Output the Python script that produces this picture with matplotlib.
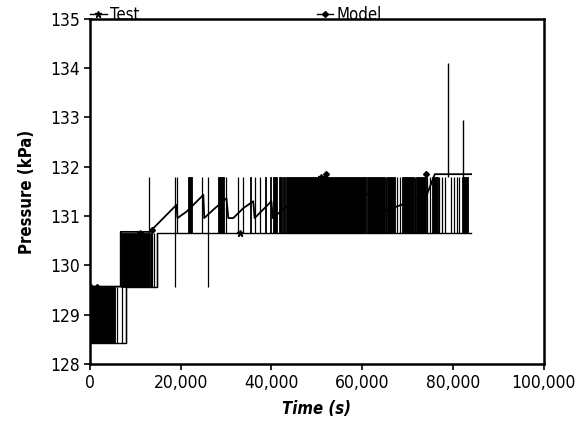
import matplotlib
matplotlib.use("Agg")
import matplotlib.pyplot as plt
from matplotlib.lines import Line2D
from matplotlib import font_manager

names = sorted({f.name + ' | ' + str(f.stretch) for f in font_manager.fontManager.ttflist})
print('\n'.join(names))

plt.rcParams['font.family'] = ['DejaVu Sans']
plt.rcParams['font.stretch'] = 'condensed'

# ---- Test data: pressure levels and oscillation bands (time s, pressure kPa)
level_low = [128.43, 129.57, 130.66]
level_high = [129.57, 130.66, 131.79]
dense_1 = [(0, 5500)]
dense_2 = [(6800, 13200)]
dense_3 = [(21650, 22600), (28300, 29500), (35200, 35600), (38500, 38900),
           (39600, 40000), (40400, 41200), (41600, 42300), (42600, 43000),
           (43300, 60900), (61100, 65000), (65500, 67300), (68800, 71400),
           (71800, 74000), (75400, 76700), (81900, 83300)]
spikes_1 = [6000, 7000, 7900]
spikes_2 = [13400, 13800, 14100, 14700]
spikes_3 = [13000, 18700, 19100, 24800, 26000, 30100, 32700, 33800, 36300,
            37400, 65300, 67600, 68400, 71600, 74300, 75000, 77000, 77600,
            78200, 79600, 80200, 80800, 81400]
down_spikes = [18700, 26000]
peak_t = [79000, 82300]
peak_p = [134.1, 132.95]
test_t = [0, 7900, 7900, 14700, 14700, 84000]
test_p = [128.43, 128.43, 129.57, 129.57, 130.66, 130.66]
test_mark_t = [300, 11000, 33000, 51000]
test_mark_p = [129.57, 130.66, 130.66, 131.79]

model_t = [0, 6800, 6800, 13200, 19100, 19300, 21300, 25000, 25200, 27200,
           30100, 30500, 31600, 33800, 36000, 36300, 40000, 40300, 46000,
           46300, 54000, 54300, 62000, 62300, 67500, 72200, 72500, 76000, 84000]
model_p = [129.57, 129.57, 130.68, 130.68, 131.23, 130.96, 131.09, 131.43,
           130.96, 131.13, 131.36, 130.96, 130.96, 131.16, 131.30, 130.96,
           131.30, 130.96, 131.40, 131.00, 131.50, 131.00, 131.50, 131.00,
           131.19, 131.35, 131.02, 131.85, 131.85]
model_mark_t = [1500, 13700, 52000, 74000]
model_mark_p = [129.57, 130.72, 131.85, 131.85]

fig = plt.figure(figsize=(5.76, 4.29), dpi=100)
ax = fig.add_axes([0.156, 0.1515, 0.788, 0.8045])

levels = [(dense_1, spikes_1), (dense_2, spikes_2), (dense_3, spikes_3)]
for i, (dense, spikes) in enumerate(levels):
    lo, hi = level_low[i], level_high[i]
    for a, b in dense:
        ax.fill_between([a, b], [lo, lo], [hi, hi], color='black', lw=0.6)
    ax.vlines(spikes, lo, hi, color='black', lw=0.9)
ax.vlines(down_spikes, level_low[1], level_low[2], color='black', lw=0.9)
ax.vlines(peak_t, level_high[2], peak_p, color='black', lw=1.0)

ax.plot(test_t, test_p, color='black', lw=1.0)
ax.plot(test_mark_t, test_mark_p, ls='none', marker='*', ms=5, color='black')
ax.plot(model_t, model_p, color='black', lw=1.3)
ax.plot(model_mark_t, model_mark_p, ls='none', marker='D', ms=3, color='black')

ax.set_xlim(0, 100000)
ax.set_ylim(128, 135)
ax.set_xticks([0, 20000, 40000, 60000, 80000, 100000])
ax.set_xticklabels(['0', '20,000', '40,000', '60,000', '80,000', '100,000'])
ax.set_yticks(range(128, 136))
ax.tick_params(direction='out', length=4, width=1.2, labelsize=12.5, pad=3)
for s in ax.spines.values():
    s.set_linewidth(1.8)

ax.set_xlabel('Time (s)', fontsize=12, fontweight='bold', style='italic', labelpad=6)
ax.set_ylabel('Pressure (kPa)', fontsize=12, fontweight='bold', labelpad=10)

h_test = Line2D([], [], color='black', lw=1, marker='*', ms=5)
h_model = Line2D([], [], color='black', lw=1, marker='D', ms=3)
leg1 = ax.legend([h_test], ['Test'], loc='lower left', bbox_to_anchor=(0.0, 0.985),
                 frameon=False, fontsize=12, handlelength=1.0, handletextpad=0.2,
                 borderaxespad=0, borderpad=0.0)
ax.add_artist(leg1)
ax.legend([h_model], ['Model'], loc='lower left', bbox_to_anchor=(0.5, 0.985),
          frameon=False, fontsize=12, handlelength=1.0, handletextpad=0.2,
          borderaxespad=0, borderpad=0.0)

fig.savefig('out.png', dpi=100)
